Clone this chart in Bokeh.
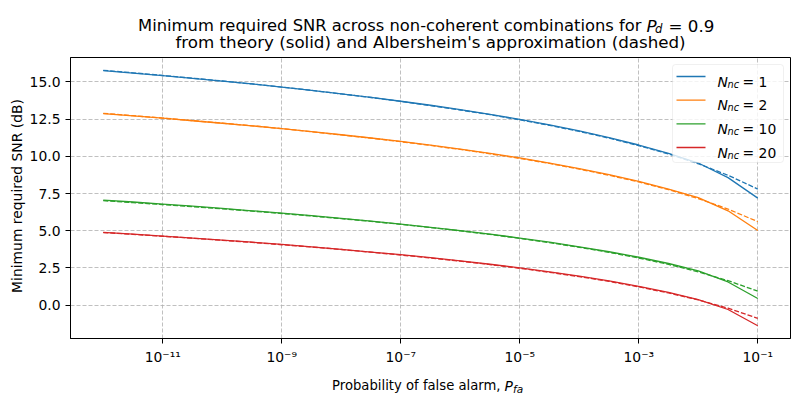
import numpy as np
from bokeh.plotting import figure
from bokeh.core.properties import value
from bokeh.models import (Range1d, FixedTicker, CustomJSTickFormatter, PrintfTickFormatter,
                          Label, BoxAnnotation, Arrow)
from bokeh.embed import file_html
from bokeh.resources import INLINE

# ---------------- data ----------------
pfa = [1e-12, 3.162e-12, 1e-11, 3.162e-11, 1e-10, 3.162e-10, 1e-9, 3.162e-9,
       1e-8, 3.162e-8, 1e-7, 3.162e-7, 1e-6, 3.162e-6, 1e-5, 3.162e-5,
       1e-4, 3.162e-4, 1e-3, 3.162e-3, 1e-2, 3.162e-2, 1e-1]

nnc_values = [1, 2, 10, 20]
series_colors = ["#1f77b4", "#ff7f0e", "#2ca02c", "#d62728"]

theory_n1 = [15.76, 15.59, 15.42, 15.24, 15.05, 14.86, 14.65, 14.43, 14.20, 13.96, 13.70, 13.43,
             13.14, 12.82, 12.48, 12.11, 11.71, 11.26, 10.76, 10.19, 9.55, 8.57, 7.19]
theory_n2 = [12.87, 12.72, 12.56, 12.39, 12.22, 12.05, 11.86, 11.66, 11.45, 11.23, 11.00, 10.75,
             10.48, 10.20, 9.89, 9.55, 9.18, 8.77, 8.31, 7.79, 7.22, 6.34, 5.02]
theory_n10 = [7.06, 6.93, 6.79, 6.65, 6.50, 6.34, 6.18, 6.01, 5.83, 5.64, 5.44, 5.23,
              5.01, 4.77, 4.51, 4.23, 3.92, 3.59, 3.22, 2.80, 2.31, 1.56, 0.45]
theory_n20 = [4.89, 4.77, 4.64, 4.51, 4.37, 4.23, 4.08, 3.92, 3.75, 3.57, 3.39, 3.19,
              2.98, 2.75, 2.51, 2.24, 1.95, 1.63, 1.27, 0.86, 0.38, -0.29, -1.38]

albersheim_n1 = [15.78, 15.61, 15.43, 15.25, 15.06, 14.86, 14.65, 14.43, 14.19, 13.95, 13.69, 13.41,
                 13.11, 12.80, 12.45, 12.08, 11.67, 11.22, 10.72, 10.16, 9.50, 8.73, 7.80]
albersheim_n2 = [12.89, 12.73, 12.57, 12.40, 12.23, 12.05, 11.86, 11.65, 11.44, 11.22, 10.98, 10.73,
                 10.46, 10.17, 9.86, 9.52, 9.14, 8.73, 8.28, 7.76, 7.16, 6.46, 5.61]
albersheim_n10 = [7.02, 6.89, 6.76, 6.62, 6.47, 6.32, 6.16, 5.99, 5.81, 5.63, 5.43, 5.22,
                  4.99, 4.75, 4.49, 4.20, 3.89, 3.55, 3.17, 2.74, 2.24, 1.65, 0.94]
albersheim_n20 = [4.88, 4.76, 4.63, 4.50, 4.36, 4.22, 4.06, 3.91, 3.74, 3.56, 3.37, 3.17,
                  2.96, 2.73, 2.48, 2.21, 1.92, 1.60, 1.23, 0.82, 0.35, -0.20, -0.88]

theory = [theory_n1, theory_n2, theory_n10, theory_n20]
albersheim = [albersheim_n1, albersheim_n2, albersheim_n10, albersheim_n20]

x_tick_values = [1e-11, 1e-9, 1e-7, 1e-5, 1e-3, 1e-1]
x_tick_labels = ["10\u207b\u00b9\u00b9", "10\u207b\u2079", "10\u207b\u2077",
                 "10\u207b\u2075", "10\u207b\u00b3", "10\u207b\u00b9"]
y_tick_values = [0.0, 2.5, 5.0, 7.5, 10.0, 12.5, 15.0]

title_line1 = "Minimum required SNR across non-coherent combinations for"
title_line2 = "from theory (solid) and Albersheim's approximation (dashed)"
x_label_text = "Probability of false alarm,"
y_label_text = "Minimum required SNR (dB)"

# ---------------- layout ----------------
W, H = 800, 400
FL, FT, FW, FH = 70, 57, 720, 281          # frame left/top/width/height (px)

# ranges (matplotlib-like 5% margins)
lx = np.log10(np.array(pfa))
lspan = lx.max() - lx.min()
lx0, lx1 = lx.min() - 0.05 * lspan, lx.max() + 0.05 * lspan
ally = np.concatenate([np.array(s) for s in theory + albersheim])
yspan = ally.max() - ally.min()
y0, y1 = ally.min() - 0.05 * yspan, ally.max() + 0.05 * yspan

p = figure(width=W, height=H, frame_width=FW, frame_height=FH,
           x_axis_type="log", x_range=Range1d(10 ** lx0, 10 ** lx1), y_range=Range1d(y0, y1),
           output_backend="svg", toolbar_location=None,
           min_border_left=FL, min_border_right=W - FL - FW,
           min_border_top=FT, min_border_bottom=H - FT - FH)
p.background_fill_color = "white"
p.border_fill_color = "white"
p.outline_line_color = "black"
p.outline_line_width = 1

# axes
p.xaxis.ticker = FixedTicker(ticks=x_tick_values, minor_ticks=[])
p.xaxis.formatter = CustomJSTickFormatter(args=dict(vals=x_tick_values, labels=x_tick_labels), code="""
    let best = 0, bd = Infinity;
    for (let i = 0; i < vals.length; i++) {
        const d = Math.abs(Math.log10(tick) - Math.log10(vals[i]));
        if (d < bd) { bd = d; best = i; }
    }
    return labels[best];
""")
p.yaxis.ticker = FixedTicker(ticks=y_tick_values, minor_ticks=[])
p.yaxis.formatter = PrintfTickFormatter(format="%.1f")
for ax in (p.xaxis, p.yaxis):
    ax.axis_line_color = "black"
    ax.axis_line_width = 1
    ax.major_tick_line_color = "black"
    ax.major_tick_line_width = 1
    ax.major_tick_out = 5
    ax.major_tick_in = 0
    ax.minor_tick_line_color = None
    ax.major_label_text_font = "DejaVu Sans"
    ax.major_label_text_font_size = "13.9px"
    ax.major_label_text_color = "black"
    ax.major_label_standoff = 5

for g in (p.xgrid, p.ygrid):
    g.grid_line_color = "#b0b0b0"
    g.grid_line_alpha = 0.8
    g.grid_line_dash = "4 2"
    g.grid_line_width = 1
p.xgrid.ticker = FixedTicker(ticks=x_tick_values)
p.ygrid.ticker = FixedTicker(ticks=y_tick_values)

# data lines
for th, ab, col in zip(theory, albersheim, series_colors):
    p.line(pfa, th, line_color=col, line_width=1.3)
    p.line(pfa, ab, line_color=col, line_width=1.3, line_dash="5 2")


# ---------------- texts outside the frame (overlay-level text glyphs) ----------------
def dx(px):
    return 10 ** (lx0 + (px - FL) / FW * (lx1 - lx0))


def dy(py):
    return y0 + (FT + FH - py) / FH * (y1 - y0)


def gtxt(px, py, t, size, align="left", style="normal", angle=0.0):
    r = p.text(x=[dx(px)], y=[dy(py)], text=[t], text_font=value("DejaVu Sans"),
               text_font_size=value(size), text_font_style=style, text_color="black",
               text_align=align, text_baseline="alphabetic", angle=angle)
    r.level = "overlay"


gtxt(641, 25, title_line1, "16.35px", align="right")
gtxt(646, 25, "P", "16.7px", style="italic")
gtxt(654.5, 28.5, "d", "11.7px", style="italic")
gtxt(668, 25, "= 0.9", "16.7px")
gtxt(FL + FW / 2, 41, title_line2, "16.7px", align="center")

gtxt(500, 385, x_label_text, "13.2px", align="right")
gtxt(504, 385, "P", "13.9px", style="italic")
gtxt(512.5, 388, "fa", "10.5px", style="italic")

gtxt(16, FT + FH / 2 - 2, y_label_text, "13.9px", align="center", angle=np.pi / 2)


# ---------------- legend (inside the frame; screen units are frame-relative, y up) ----------------
def sx(px):
    return px - FL


def sy(py):
    return FT + FH - py


p.add_layout(BoxAnnotation(left=sx(672), right=sx(783), top=sy(64), bottom=sy(162),
                           left_units="screen", right_units="screen",
                           top_units="screen", bottom_units="screen",
                           fill_color="white", fill_alpha=0.8,
                           line_color="#cccccc", line_width=1, border_radius=3))
row_py = [76, 99.7, 123.3, 147]
for ry, col, n in zip(row_py, series_colors, nnc_values):
    p.add_layout(Arrow(end=None, x_start=sx(676), y_start=sy(ry), x_end=sx(705), y_end=sy(ry),
                       start_units="screen", end_units="screen",
                       line_color=col, line_width=1.3))
    for t, x, yoff, size, style in [("N", 717, 5, "13.9px", "italic"),
                                    ("nc", 727, 7.5, "9.7px", "italic"),
                                    ("= %d" % n, 742, 5, "13.9px", "normal")]:
        p.add_layout(Label(x=sx(x), y=sy(ry + yoff), x_units="screen", y_units="screen", text=t,
                           text_font="DejaVu Sans", text_font_size=size, text_font_style=style,
                           text_color="black", text_align="left", text_baseline="alphabetic"))

open("out.html", "w").write(file_html(p, INLINE))
